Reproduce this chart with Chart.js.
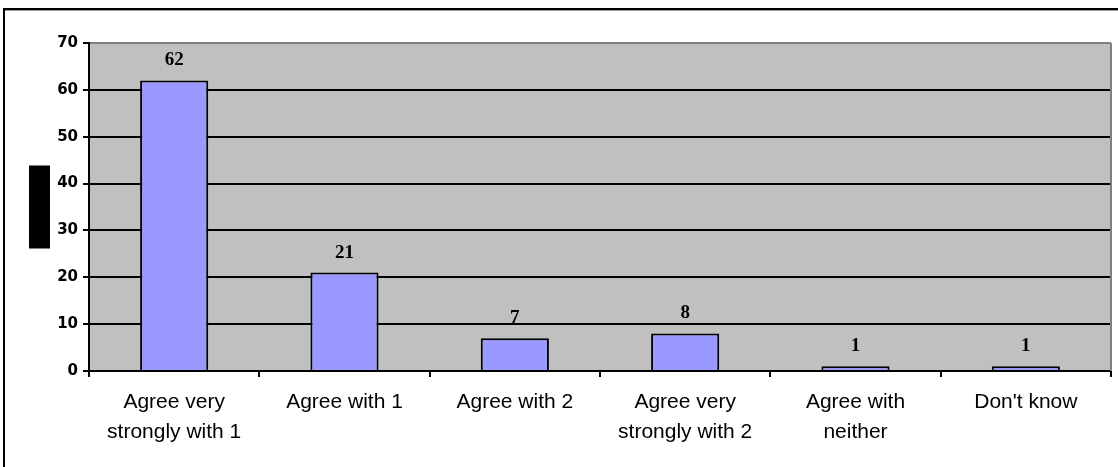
<!DOCTYPE html>
<html><head><meta charset="utf-8">
<script src="https://cdn.jsdelivr.net/npm/chart.js@4/dist/chart.umd.min.js"></script>
<style>html,body{margin:0;padding:0;background:#fff;overflow:hidden}#wrap{width:1118px;height:467px;position:relative}</style>
</head><body><div id="wrap"><canvas id="c" width="1118" height="467"></canvas></div>
<script>
const categories = [['Agree very','strongly with 1'], 'Agree with 1', 'Agree with 2', ['Agree very','strongly with 2'], ['Agree with','neither'], "Don't know"];
const values = [62, 21, 7, 8, 1, 1];
const yMin = 0, yMax = 70, yStep = 10;

const decor = {
  id: 'decor',
  beforeDraw(chart) {
    const {ctx, chartArea: a} = chart;
    ctx.save();
    ctx.fillStyle = '#ffffff';
    ctx.fillRect(0, 0, chart.width, chart.height);
    ctx.fillStyle = '#c0c0c0';
    ctx.fillRect(a.left, a.top, a.right - a.left, a.bottom - a.top);
    ctx.restore();
  },
  beforeDatasetsDraw(chart) {
    const {ctx, chartArea: a} = chart;
    ctx.save();
    ctx.strokeStyle = '#808080';
    ctx.lineWidth = 2;
    ctx.beginPath();
    ctx.moveTo(a.right, a.top);
    ctx.lineTo(a.right, a.bottom);
    ctx.stroke();
    ctx.restore();
  },
  afterDatasetsDraw(chart) {
    const {ctx} = chart;
    const meta = chart.getDatasetMeta(0);
    ctx.save();
    ctx.fillStyle = '#000';
    ctx.font = 'bold 19px "Liberation Serif", "Times New Roman", serif';
    ctx.textAlign = 'center';
    ctx.textBaseline = 'middle';
    meta.data.forEach((bar, i) => {
      ctx.fillText(String(values[i]), bar.x, bar.y - 20);
    });
    ctx.restore();
  },
  afterDraw(chart) {
    const {ctx, chartArea: a} = chart;
    ctx.save();
    // axis title block
    const cy = (a.top + a.bottom) / 2;
    ctx.fillStyle = '#000';
    ctx.fillRect(a.left - 60, cy - 41.5, 21, 83);
    // outer frame
    ctx.strokeStyle = '#000';
    ctx.lineWidth = 2;
    ctx.beginPath();
    ctx.moveTo(4, chart.height + 5);
    ctx.lineTo(4, 9);
    ctx.lineTo(chart.width + 5, 9);
    ctx.stroke();
    ctx.strokeStyle = '#a0a0a0';
    ctx.lineWidth = 1;
    ctx.beginPath();
    ctx.moveTo(5, 10.5);
    ctx.lineTo(chart.width, 10.5);
    ctx.stroke();
    ctx.restore();
  }
};

new Chart(document.getElementById('c'), {
  type: 'bar',
  data: {
    labels: categories,
    datasets: [{
      data: values,
      backgroundColor: '#9999ff',
      borderColor: '#000000',
      borderWidth: 2,
      borderSkipped: 'bottom',
      barPercentage: 0.4,
      categoryPercentage: 1.0
    }]
  },
  options: {
    responsive: false,
    animation: false,
    devicePixelRatio: 1,
    layout: {padding: {left: 0, top: 43, right: 7, bottom: 0}},
    plugins: {legend: {display: false}, tooltip: {enabled: false}, title: {display: false}},
    scales: {
      x: {
        offset: true,
        afterFit(s) { s.height = 96; },
        grid: {
          offset: true,
          drawOnChartArea: false,
          drawTicks: true,
          tickLength: 6,
          color: '#000',
          lineWidth: 2
        },
        border: {display: true, color: '#000', width: 2},
        ticks: {
          color: '#000',
          font: {family: '"Liberation Sans", Arial, sans-serif', size: 21, lineHeight: 1.42},
          maxRotation: 0,
          autoSkip: false,
          padding: 10
        }
      },
      y: {
        min: yMin,
        max: yMax,
        afterFit(s) { s.width = 89; },
        grid: {
          color: (c) => (c.tick && c.tick.value === yMax) ? '#808080' : '#000',
          tickColor: '#000',
          lineWidth: 2,
          drawTicks: true,
          tickLength: 6
        },
        border: {display: true, color: '#000', width: 2},
        ticks: {
          stepSize: yStep,
          color: '#000',
          font: {family: '"DejaVu Sans", Verdana, sans-serif', size: 15, weight: 'bold'},
          padding: 5
        }
      }
    }
  },
  plugins: [decor]
});
</script>
</body></html>
